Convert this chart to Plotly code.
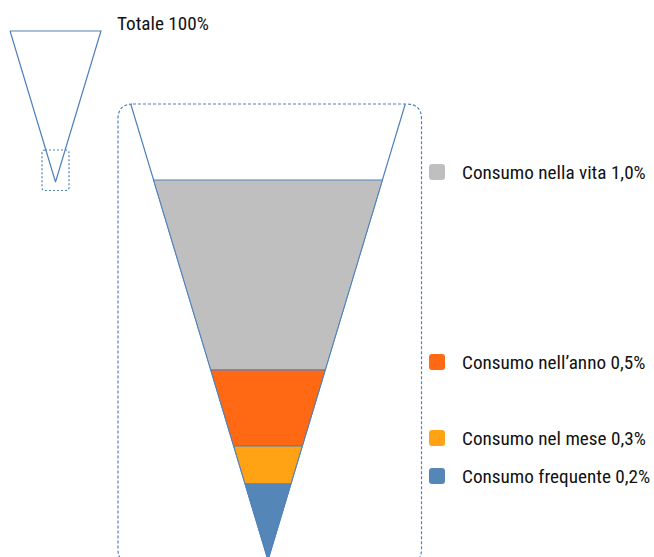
import plotly.graph_objects as go

# ---- data ----
categories = ["Consumo nella vita", "Consumo nell\u2019anno", "Consumo nel mese", "Consumo frequente"]
values = [1.0, 0.5, 0.3, 0.2]          # percent of total population
value_labels = ["1,0%", "0,5%", "0,3%", "0,2%"]
total_value = 100
total_label = "Totale 100%"
colors = ["#BFBFBF", "#FF6914", "#FFA214", "#5586B8"]

# ---- styling / layout constants ----
W, H = 654, 557
PX = 380.0                 # pixels per unit (same on x and y)
APEX_PX = (268.0, 560.0)   # where the funnel apex sits on the page
K = 0.301                  # half-width per unit of height
LINE = "#4F81BD"
FONT = "Roboto Condensed, Liberation Sans Narrow, sans-serif"
FSIZE = 19.2
TCOLOR = "#111111"

x0 = -APEX_PX[0] / PX
x1 = (W - APEX_PX[0]) / PX
y0 = -(H - APEX_PX[1]) / PX
y1 = APEX_PX[1] / PX

def ux(px):
    return (px - APEX_PX[0]) / PX

def uy(py):
    return (APEX_PX[1] - py) / PX

fig = go.Figure()

# outer (zoomed) funnel outline
outer_top = uy(104)
fig.add_trace(go.Scatter(
    x=[-K * outer_top, 0, K * outer_top], y=[outer_top, 0, outer_top],
    mode="lines", line=dict(color=LINE, width=1.2), hoverinfo="skip", showlegend=False))

# funnel segments
for i, (cat, v) in enumerate(zip(categories, values)):
    bot = values[i + 1] if i + 1 < len(values) else 0.0
    xs = [-K * v, K * v, K * bot, -K * bot, -K * v]
    ys = [v, v, bot, bot, v]
    fig.add_trace(go.Scatter(
        x=xs, y=ys, mode="lines", fill="toself", fillcolor=colors[i],
        line=dict(color=LINE, width=1), hoverinfo="skip", showlegend=False))

# legend-like labels
label_off = 8 / PX
for i, (cat, v) in enumerate(zip(categories, values)):
    yl = v + label_off
    fig.add_annotation(x=ux(460), y=yl, text=f"{cat} {value_labels[i]}", showarrow=False,
                       xanchor="left", yanchor="middle",
                       font=dict(family=FONT, size=FSIZE, color=TCOLOR))
    cx, cy, hs, r = ux(437), yl, 8 / PX, 3 / PX
    path = (f"M {cx-hs+r},{cy+hs} L {cx+hs-r},{cy+hs} Q {cx+hs},{cy+hs} {cx+hs},{cy+hs-r} "
            f"L {cx+hs},{cy-hs+r} Q {cx+hs},{cy-hs} {cx+hs-r},{cy-hs} "
            f"L {cx-hs+r},{cy-hs} Q {cx-hs},{cy-hs} {cx-hs},{cy-hs+r} "
            f"L {cx-hs},{cy+hs-r} Q {cx-hs},{cy+hs} {cx-hs+r},{cy+hs} Z")
    fig.add_shape(type="path", path=path, fillcolor=colors[i], line=dict(width=0))

# small overview triangle (total 100%)
icon_h = 151 / PX / total_value     # units per percent in the icon
icon_apex = (ux(55.5), uy(182))
th = total_value * icon_h
fig.add_trace(go.Scatter(
    x=[icon_apex[0] - K * th, icon_apex[0], icon_apex[0] + K * th, icon_apex[0] - K * th],
    y=[icon_apex[1] + th, icon_apex[1], icon_apex[1] + th, icon_apex[1] + th],
    mode="lines", line=dict(color=LINE, width=1.2), hoverinfo="skip", showlegend=False))
fig.add_annotation(x=ux(115), y=uy(23), text=total_label, showarrow=False,
                   xanchor="left", yanchor="middle",
                   font=dict(family=FONT, size=FSIZE, color=TCOLOR))

def rounded_rect(l, t, r_, b, rad):
    return (f"M {l+rad},{t} L {r_-rad},{t} Q {r_},{t} {r_},{t-rad} L {r_},{b+rad} "
            f"Q {r_},{b} {r_-rad},{b} L {l+rad},{b} Q {l},{b} {l},{b+rad} "
            f"L {l},{t-rad} Q {l},{t} {l+rad},{t} Z")

# dashed zoom boxes
fig.add_shape(type="path", path=rounded_rect(ux(118), uy(104), ux(421.5), uy(564), 15 / PX),
              line=dict(color=LINE, width=1.2, dash="3px,2px"))
fig.add_shape(type="path", path=rounded_rect(ux(42), uy(150), ux(69), uy(190.5), 3 / PX),
              line=dict(color=LINE, width=1.2, dash="2px,2px"))

fig.update_layout(
    width=W, height=H, margin=dict(l=0, r=0, t=0, b=0),
    paper_bgcolor="white", plot_bgcolor="white",
    xaxis=dict(range=[x0, x1], visible=False, fixedrange=True),
    yaxis=dict(range=[y0, y1], visible=False, fixedrange=True),
    showlegend=False,
)

fig.write_html("out.html", config={"displayModeBar": False},
               post_script="document.body.style.margin='0';")
